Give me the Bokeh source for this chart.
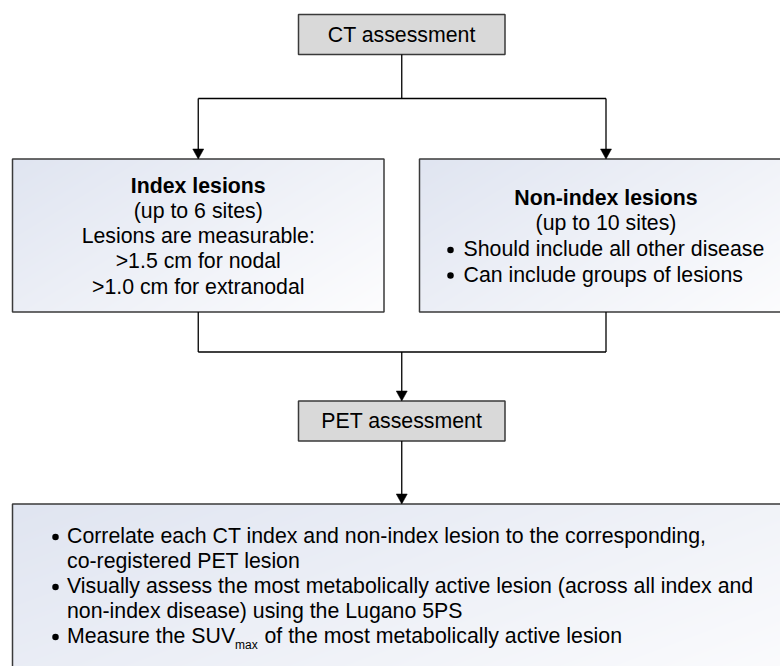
import numpy as np
from bokeh.plotting import figure
from bokeh.models import Range1d
from bokeh.core.properties import value
from bokeh.embed import file_html
from bokeh.resources import INLINE

# ---------------- content ----------------
top_label = "CT assessment"
mid_label = "PET assessment"
index_title = "Index lesions"
index_lines = ["(up to 6 sites)", "Lesions are measurable:",
               ">1.5 cm for nodal", ">1.0 cm for extranodal"]
nonindex_title = "Non-index lesions"
nonindex_sub = "(up to 10 sites)"
nonindex_bullets = ["Should include all other disease",
                    "Can include groups of lesions"]
pet_lines = ["Correlate each CT index and non-index lesion to the corresponding,",
             "co-registered PET lesion",
             "Visually assess the most metabolically active lesion (across all index and",
             "non-index disease) using the Lugano 5PS"]
pet_bullet_rows = [0, 2, 4]
last_parts = ["Measure the SUV", "max", "of the most metabolically active lesion"]

# ---------------- layout (page pixels) ----------------
W, H = 780, 666
FONT = "Liberation Sans"
FS = "21.3px"

boxes = {
    "ct":    (298, 504.5, 14, 54),
    "index": (12, 383.5, 158.5, 311.5),
    "non":   (419, 791, 158.5, 311.5),
    "pet":   (298, 504.5, 400.5, 440.5),
    "out":   (12, 792, 503.5, 700),
}

p = figure(width=W, height=H, output_backend="svg", toolbar_location=None,
           x_range=Range1d(0, W), y_range=Range1d(H, 0),
           min_border=0, tools="")
p.axis.visible = False
p.grid.visible = False
p.outline_line_color = None
p.background_fill_color = "white"
p.border_fill_color = "white"


def gradient(x0, x1, y0, y1):
    nx, ny = int(round(x1 - x0)), int(round(y1 - y0))
    xx, yy = np.meshgrid(np.linspace(0, 1, nx), np.linspace(0, 1, ny))
    t = np.clip((xx * 0.6 + yy * 0.4), 0, 1)
    c0 = np.array([224, 229, 241])
    c1 = np.array([253, 253, 254])
    img = np.empty((ny, nx), dtype=np.uint32)
    v = img.view(dtype=np.uint8).reshape((ny, nx, 4))
    for k in range(3):
        v[:, :, k] = (c0[k] * (1 - t) + c1[k] * t).astype(np.uint8)
    v[:, :, 3] = 255
    p.image_rgba(image=[img], x=x0, y=y1, dw=x1 - x0, dh=y1 - y0,
                 origin="bottom_left", anchor="top_left")


for key in ("index", "non", "out"):
    x0, x1, y0, y1 = boxes[key]
    gradient(x0, x1, y0, y1)
    p.quad(left=x0, right=x1, top=y0, bottom=y1, fill_alpha=0,
           line_color="#3a3a3a", line_width=1.5)

for key in ("ct", "pet"):
    x0, x1, y0, y1 = boxes[key]
    p.quad(left=x0, right=x1, top=y0, bottom=y1, fill_color="#d9d9d9",
           line_color="#3a3a3a", line_width=1.5)

# connectors
cx = (boxes["ct"][0] + boxes["ct"][1]) / 2
lx = (boxes["index"][0] + boxes["index"][1]) / 2
rx = 605.5
split_y = 98
join_y = 351.5
lines_x = [[cx, cx], [lx, rx], [lx, lx], [rx, rx],
           [lx, lx], [rx, rx], [lx, rx], [cx, cx], [cx, cx]]
lines_y = [[boxes["ct"][3], split_y], [split_y, split_y],
           [split_y, boxes["index"][2] - 9], [split_y, boxes["non"][2] - 9],
           [boxes["index"][3], join_y], [boxes["non"][3], join_y],
           [join_y, join_y], [join_y, boxes["pet"][2] - 9],
           [boxes["pet"][3], boxes["out"][2] - 9]]
p.multi_line(xs=lines_x, ys=lines_y, line_color="black", line_width=1.3)

# arrowheads
tips = [(lx, boxes["index"][2]), (rx, boxes["non"][2]),
        (cx, boxes["pet"][2]), (cx, boxes["out"][2])]
aw, ah = 5.5, 10
p.patches(xs=[[tx - aw, tx + aw, tx] for tx, ty in tips],
          ys=[[ty - ah, ty - ah, ty] for tx, ty in tips],
          fill_color="black", line_color="black", line_width=0.5)

common = dict(text_font=value(FONT), text_color="black", text_baseline="middle")

# box titles
p.text(x=[cx, cx], y=[34, 420.5], text=[top_label, mid_label],
       text_font_size=FS, text_align="center", **common)

# index box
p.text(x=[lx], y=[185], text=[index_title], text_font_size=FS,
       text_align="center", text_font_style="bold", **common)
p.text(x=[lx] * len(index_lines), y=[185 + 25.3 * (i + 1) for i in range(len(index_lines))],
       text=index_lines, text_font_size=FS, text_align="center", **common)

# non-index box
p.text(x=[rx], y=[197], text=[nonindex_title], text_font_size=FS,
       text_align="center", text_font_style="bold", **common)
p.text(x=[rx], y=[222.5], text=[nonindex_sub], text_font_size=FS,
       text_align="center", **common)
ny_ = [248.5 + 25.5 * i for i in range(len(nonindex_bullets))]
p.scatter(x=[450] * len(nonindex_bullets), y=[v + 1 for v in ny_], size=6.5,
          marker="circle", fill_color="black", line_color=None)
p.text(x=[463] * len(nonindex_bullets), y=ny_, text=nonindex_bullets,
       text_font_size=FS, text_align="left", **common)

# PET output box
row_y = [535.5 + 25 * i for i in range(5)]
p.text(x=[66.5] * len(pet_lines), y=row_y[:4], text=pet_lines,
       text_font_size=FS, text_align="left", **common)
p.scatter(x=[55] * len(pet_bullet_rows), y=[row_y[i] + 1 for i in pet_bullet_rows],
          size=6.5, marker="circle", fill_color="black", line_color=None)
p.text(x=[66.5], y=[row_y[4]], text=[last_parts[0]], text_font_size=FS,
       text_align="left", **common)
p.text(x=[234.5], y=[row_y[4] + 9], text=[last_parts[1]], text_font_size="12px",
       text_align="left", **common)
p.text(x=[264], y=[row_y[4]], text=[last_parts[2]], text_font_size=FS,
       text_align="left", **common)

open("out.html", "w").write(file_html(p, INLINE))
